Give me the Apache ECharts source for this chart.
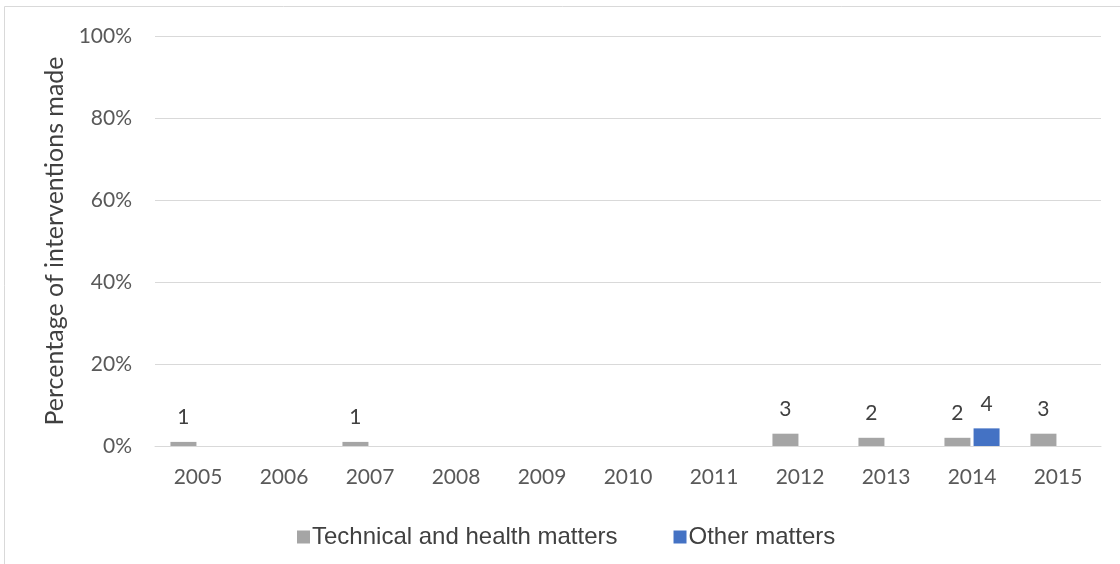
<!DOCTYPE html>
<html><head><meta charset="utf-8">
<script src="https://cdn.jsdelivr.net/npm/echarts@6/dist/echarts.min.js"></script>
<style>html,body{margin:0;padding:0;background:#fff}#c{width:1120px;height:564px}</style>
</head><body><div id="c"></div>
<script>
const years = ['2005','2006','2007','2008','2009','2010','2011','2012','2013','2014','2015'];
const techPct = [1, null, 1, null, null, null, null, 3, 2, 2, 3];
const techCount = [1, null, 1, null, null, null, null, 3, 2, 2, 3];
const otherPct = [null, null, null, null, null, null, null, null, null, 4.3, null];
const otherCount = [null, null, null, null, null, null, null, null, null, 4, null];
const yTicks = [0, 20, 40, 60, 80, 100];

const chart = echarts.init(document.getElementById('c'));
const lbl = (counts) => ({
  show: true, position: 'top', distance: 14,
  fontFamily: 'Lato', fontSize: 21, color: '#404040',
  formatter: p => counts[p.dataIndex] == null ? '' : String(counts[p.dataIndex])
});
chart.setOption({
  animation: false,
  graphic: [{type:'rect', shape:{x:4.5, y:6.5, width:1300, height:700}, style:{fill:'none', stroke:'#d9d9d9', lineWidth:1}, z:-1}],
  grid: {left:155, right:19, top:36, bottom:118},
  legend: {
    top: 525, left: 297, itemWidth: 13, itemHeight: 13, itemGap: 56,
    icon: 'rect', padding: 0,
    textStyle: {fontFamily: 'Liberation Sans', fontSize: 24, color: '#404040', padding:[0,0,0,-3]},
    data: ['Technical and health matters', 'Other matters']
  },
  xAxis: {
    type: 'category', data: years,
    axisLine: {lineStyle: {color: '#d9d9d9'}},
    axisTick: {show: false},
    axisLabel: {fontFamily: 'Lato', fontSize: 21, color: '#595959', margin: 21}
  },
  yAxis: {
    type: 'value', min: yTicks[0], max: yTicks[yTicks.length-1], interval: 20,
    name: 'Percentage of interventions made', nameLocation: 'middle', nameGap: 86,
    nameTextStyle: {fontFamily: 'Lato', fontSize: 25, color: '#404040'},
    axisLine: {show: false}, axisTick: {show: false},
    splitLine: {lineStyle: {color: '#d9d9d9'}},
    axisLabel: {fontFamily: 'Lato', fontSize: 21, color: '#595959', margin: 23, formatter: v => v + '%'}
  },
  series: [
    {name: 'Technical and health matters', type: 'bar', data: techPct, barWidth: 26, barGap: '12%',
     itemStyle: {color: '#a5a5a5'}, label: lbl(techCount)},
    {name: 'Other matters', type: 'bar', data: otherPct, barWidth: 26, barGap: '12%',
     itemStyle: {color: '#4472c4'}, label: lbl(otherCount)}
  ]
});
</script></body></html>
